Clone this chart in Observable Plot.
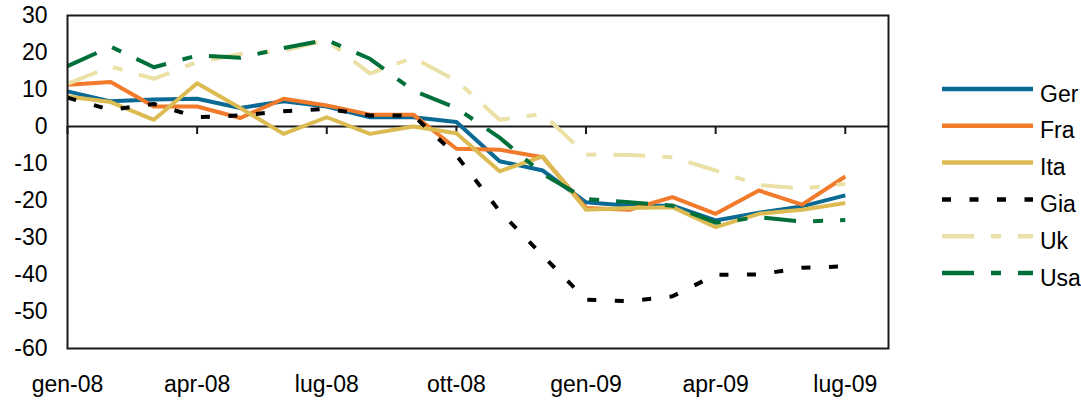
<!DOCTYPE html>
<html><head><meta charset="utf-8">
<script src="https://cdn.jsdelivr.net/npm/d3@7"></script>
<script src="https://cdn.jsdelivr.net/npm/@observablehq/plot@0.6"></script>
<style>
body{margin:0;background:#fff;}
#wrap{position:relative;width:1081px;height:400px;font-family:"Liberation Sans",Arial,sans-serif;}
#wrap svg{position:absolute;left:0;top:0;}
</style></head><body><div id="wrap"></div>
<script>
const months = ["gen-08","feb-08","mar-08","apr-08","mag-08","giu-08","lug-08","ago-08","set-08","ott-08","nov-08","dic-08",
                "gen-09","feb-09","mar-09","apr-09","mag-09","giu-09","lug-09"];
const tickMonths = ["gen-08","apr-08","lug-08","ott-08","gen-09","apr-09","lug-09"];
const yTicks = [-60,-50,-40,-30,-20,-10,0,10,20,30];
const series = ["Ger","Fra","Ita","Gia","Uk","Usa"];

const ger = [9.5, 6.8, 7.3, 7.5, 5.0, 6.8, 5.4, 2.5, 2.5, 1.2, -9.4, -11.9, -20.5, -21.4, -21.4, -25.4, -23.3, -21.6, -18.6];
const fra = [11.3, 12.0, 5.4, 5.4, 2.3, 7.5, 5.7, 3.2, 3.2, -6.0, -6.3, -8.3, -22.0, -22.5, -19.1, -23.6, -17.3, -21.1, -13.5];
const ita = [8.1, 6.6, 1.8, 11.7, 5.0, -2.0, 2.5, -2.0, 0.0, -1.8, -12.1, -8.1, -22.5, -22.0, -21.8, -27.2, -23.6, -22.5, -20.7];
const gia = [7.8, 4.5, 6.1, 2.5, 3.0, 4.1, 4.8, 3.0, 3.0, -7.8, -22.9, -34.9, -46.8, -47.2, -45.9, -40.1, -40.0, -38.2, -37.8];
const uk  = [11.5, 16.2, 12.9, 17.4, 19.6, 20.5, 23.4, 14.3, 18.6, 12.4, 1.8, 3.4, -7.6, -7.7, -8.3, -11.9, -15.8, -16.8, -15.5];
const usa = [16.3, 21.6, 16.0, 19.2, 18.6, 21.2, 23.4, 18.3, 9.7, 5.0, -3.0, -12.8, -19.6, -20.5, -21.4, -26.0, -24.5, -25.7, -25.3];

const values = [ger, fra, ita, gia, uk, usa];
const colors = ["#0b6a93", "#f17a2b", "#dcbc52", "#000000", "#ebe0a5", "#00703b"];
const dashes = [null, null, null, "9,18.5", "32,17,10,17", "32,17,10,17"];

const rows = [];
series.forEach((s, k) => values[k].forEach((v, i) => rows.push({series: s, month: i, value: v})));
const tickIdx = tickMonths.map(m => months.indexOf(m));

const ink = "#1a1a1a";
const plot = Plot.plot({
  width: 1081, height: 400,
  marginLeft: 67, marginRight: 193, marginTop: 15, marginBottom: 52,
  style: {fontSize: "23px", fontFamily: "Liberation Sans, Arial, sans-serif", color: "#000", background: "transparent"},
  x: {type: "linear", domain: [0, months.length]},
  y: {domain: [-60, 30]},
  marks: [
    Plot.axisY({ticks: yTicks, tickSize: 0, tickPadding: 20, tickFormat: d => String(d), label: null, fill: "#000"}),
    Plot.axisX({ticks: tickIdx, tickSize: 0, tickPadding: 27, tickFormat: i => months[i], label: null, fill: "#000"}),
    Plot.ruleY([0], {stroke: ink, strokeWidth: 2}),
    Plot.ruleX(tickIdx, {x: d => d, y1: 0, y2: 0, insetBottom: -8, stroke: ink, strokeWidth: 2}),
    ...series.map((s, k) => Plot.lineY(rows.filter(r => r.series === s), {
      x: "month", y: "value", stroke: colors[k], strokeWidth: 4,
      strokeDasharray: dashes[k] || undefined, strokeLinecap: "butt", strokeLinejoin: "round"
    })),
    Plot.frame({stroke: ink, strokeWidth: 2})
  ]
});
document.getElementById("wrap").appendChild(plot);

// Legend (right side)
const leg = d3.select("#wrap").append("svg").attr("width", 1081).attr("height", 400)
  .style("pointer-events", "none");
const g = leg.selectAll("g").data(series).join("g")
  .attr("transform", (d, k) => `translate(0,${89 + k * 36.8})`);
g.append("line").attr("x1", 942).attr("x2", 1033).attr("y1", 0).attr("y2", 0)
  .attr("stroke", (d, k) => colors[k]).attr("stroke-width", 4.5)
  .attr("stroke-dasharray", (d, k) => dashes[k]);
g.append("text").attr("x", 1040).attr("y", 12.5).text(d => d)
  .attr("font-size", 23).attr("font-family", "Liberation Sans, Arial, sans-serif").attr("fill", "#000");
</script></body></html>
